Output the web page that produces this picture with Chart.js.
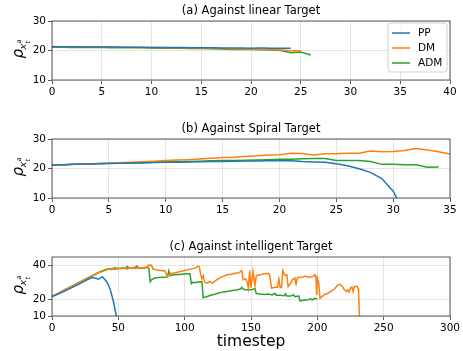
<!DOCTYPE html>
<html lang="en">
<head>
<meta charset="UTF-8">
<title>Target pursuit comparison</title>
<script src="https://cdn.jsdelivr.net/npm/chart.js"></script>
<style>
  body { margin: 0; background: #fff; }
  #wrap { position: relative; width: 463px; height: 351px; }
  canvas { position: absolute; left: 0; }
</style>
</head>
<body>
<div id="wrap">
  <canvas id="chartA" width="463" height="100" style="top:0px"></canvas>
  <canvas id="chartB" width="463" height="100" style="top:118px"></canvas>
  <canvas id="chartC" width="463" height="115" style="top:236px"></canvas>
</div>
<script>
const names = ['PP', 'DM', 'ADM'];
const colors = ['#1f77b4', '#ff7f0e', '#2ca02c'];
const titles = ['(a) Against linear Target', '(b) Against Spiral Target', '(c) Against intelligent Target'];
const xTitle = 'timestep';

// (a) linear target, one value per step
const aPP  = [21.3, 21.28, 21.25, 21.22, 21.2, 21.18, 21.15, 21.12, 21.1, 21.08, 21.05, 21.03, 21.0, 20.98, 20.95, 20.93, 20.9, 20.88, 20.85, 20.83, 20.8, 20.82, 20.78, 20.75, 20.75];
const aDM  = [21.35, 21.3, 21.3, 21.25, 21.2, 21.2, 21.15, 21.1, 21.1, 21.05, 21.0, 21.0, 20.95, 20.9, 20.85, 20.8, 20.75, 20.7, 20.55, 20.5, 20.45, 20.4, 20.3, 20.2, 19.9, 19.9];
const aADM = [21.1, 21.1, 21.05, 21.05, 21.0, 21.0, 20.95, 20.95, 20.9, 20.9, 20.85, 20.8, 20.8, 20.75, 20.7, 20.65, 20.6, 20.5, 20.35, 20.3, 20.3, 20.25, 20.2, 20.0, 19.25, 19.45, 18.5];

// (b) spiral target
const bPP  = [21.2, 21.3, 21.4, 21.5, 21.6, 21.7, 21.75, 21.85, 21.9, 22.0, 22.1, 22.15, 22.2, 22.3, 22.35, 22.4, 22.45, 22.5, 22.55, 22.6, 22.65, 22.6, 22.35, 22.2, 22.1, 21.6, 20.9, 19.9, 18.7, 16.6, 12.3, 5];
const bDM  = [21.2, 21.3, 21.45, 21.55, 21.7, 21.8, 21.95, 22.1, 22.25, 22.45, 22.7, 22.85, 23.0, 23.2, 23.45, 23.7, 23.8, 24.1, 24.3, 24.6, 24.7, 25.15, 25.1, 24.6, 25.0, 25.0, 25.2, 25.2, 25.9, 25.7, 25.8, 26.1, 26.8, 26.3, 25.7, 24.9];
const bADM = [21.2, 21.3, 21.4, 21.5, 21.6, 21.75, 21.8, 21.9, 22.0, 22.1, 22.2, 22.3, 22.4, 22.5, 22.6, 22.7, 22.75, 22.8, 22.9, 23.0, 23.1, 23.1, 23.3, 23.4, 23.4, 22.75, 22.7, 22.7, 22.35, 21.4, 21.4, 21.3, 21.25, 20.4, 20.5];

const cPPt = [0, 5, 10, 15, 20, 25, 30, 33, 35, 37, 38, 40, 42, 43, 44, 45, 46, 47, 48, 49];
const cPPv = [21.5, 23.2, 24.9, 26.8, 28.8, 30.8, 32.8, 32.4, 31.8, 32.9, 33.2, 31.5, 29.3, 27.5, 25.5, 22.5, 19.5, 16, 12, 7];

const cDMt = [0, 5, 10, 15, 20, 25, 30, 35, 40, 43, 45, 48, 50, 52, 55, 57, 58, 60, 62, 63, 65, 68, 70, 72, 73, 74, 75, 76, 78, 80, 83, 85, 86, 87, 88, 89, 92, 96, 100, 104, 108, 110, 111, 112, 113, 114, 115, 117, 119, 121, 123, 126, 129, 132, 135, 138, 141, 143, 144, 146, 147, 148, 149, 150, 151.5, 153, 154, 157, 160, 163, 164, 165.5, 168, 170, 171, 172, 173, 174, 175, 176, 177, 178, 180, 181, 183, 184, 185, 188, 191, 194, 197, 198, 199, 199.5, 200, 201, 202, 205, 208, 211, 213, 215, 217, 219, 220, 222, 223, 224, 225, 226, 227, 228, 230, 231, 232];
const cDMv = [21.5, 23.6, 25.6, 27.6, 29.6, 31.6, 33.4, 35.6, 37, 37.8, 38.2, 37.6, 38.5, 38, 38.4, 37.8, 38.6, 38.2, 38.9, 38.1, 38.5, 38.3, 38.8, 39.2, 40.4, 39.8, 40.2, 38, 37.5, 37.2, 36.8, 37, 35, 33.5, 34, 35.2, 35.5, 36.3, 37, 37.8, 38.4, 39.6, 39.2, 35, 32, 34, 30, 29.5, 30.5, 29.5, 30.8, 32.5, 33.5, 34.5, 34.8, 35.3, 35.6, 37, 31.5, 32, 30.5, 26.5, 37, 26.8, 36.5, 28, 34, 34.5, 35, 35.2, 34.5, 26.5, 27, 27, 32, 26.8, 27, 37, 35, 34, 34.5, 27.5, 29.5, 31.5, 32.5, 29, 32.8, 33, 33.5, 33, 33.5, 34.5, 33, 22.5, 32.5, 30, 20.5, 22.5, 23.5, 25, 26, 28.2, 28.8, 27.5, 26, 24.5, 25.5, 24.2, 26.5, 27.3, 24.5, 27.5, 27.5, 26, 5];

const cADMt = [0, 5, 10, 15, 20, 25, 30, 35, 40, 43, 45, 47, 50, 53, 55, 57, 58, 60, 62, 64, 65, 68, 70, 72, 73, 74, 75, 77, 80, 84, 87, 88, 89, 92, 95, 98, 101, 104, 105, 106, 108, 110, 113, 114, 116, 119, 122, 125, 129, 132, 135, 139, 142, 143, 144, 146, 150, 153, 154, 157, 160, 163, 166, 168, 169, 172, 175, 176, 177, 180, 182, 183, 186, 187, 190, 193, 195, 196, 198, 199, 200];
const cADMv = [21.5, 23.6, 25.7, 27.7, 29.7, 31.8, 33.8, 35.8, 37.5, 38, 37.6, 38.6, 38, 38.4, 38.2, 39.4, 38.4, 38.3, 38.4, 39.6, 38.6, 38.5, 38.5, 38.9, 38.2, 30.4, 31.5, 32.4, 32.8, 33, 33.2, 36.8, 34, 34.4, 34.6, 34.8, 35, 35, 29.2, 30, 29.8, 30.2, 30.3, 20.8, 21.3, 22.2, 22.8, 23.5, 24.3, 24.5, 25, 25.4, 26, 27, 26, 25.5, 25.5, 26.2, 23.3, 23, 22.8, 23, 22.5, 23.5, 22.3, 22.3, 22, 23.2, 21.8, 21.8, 22.6, 21.5, 21.8, 19, 19.3, 19.6, 20.2, 19.5, 20.5, 20.2, 20];

function steps(vals) { return vals.map((v, i) => ({ x: i, y: v })); }
function pairs(ts, vals) { return ts.map((t, i) => ({ x: t, y: vals[i] })); }

function sets(list) {
    return list.map((d, i) => ({
        label: names[i],
        data: d,
        borderColor: colors[i],
        backgroundColor: colors[i],
        borderWidth: 1.5,
        pointRadius: 0,
        fill: false,
        tension: 0
    }));
}

const font = '"DejaVu Sans", sans-serif';

// spines, subplot title, rotated y label and the legend box
const decor = {
    id: 'decor',
    afterDatasetsDraw(chart, args, opts) {
        const ctx = chart.ctx;
        const a = chart.chartArea;
        ctx.save();
        ctx.strokeStyle = '#333';
        ctx.lineWidth = 0.8;
        ctx.strokeRect(a.left, a.top, a.right - a.left, a.bottom - a.top);

        ctx.fillStyle = '#000';
        ctx.font = '11.5px ' + font;
        ctx.textAlign = 'center';
        ctx.textBaseline = 'middle';
        ctx.fillText(opts.title, (a.left + a.right) / 2, a.top - 10);

        // y label: rho with x_t^a subscript
        ctx.save();
        ctx.translate(23, (a.top + a.bottom) / 2 + 8);
        ctx.rotate(-Math.PI / 2);
        ctx.textAlign = 'left';
        ctx.textBaseline = 'alphabetic';
        ctx.font = 'italic 15px ' + font;
        ctx.fillText('ρ', 0, 0);
        ctx.font = 'italic 9.5px ' + font;
        ctx.fillText('x', 9, 3);
        ctx.font = 'italic 6.5px ' + font;
        ctx.fillText('a', 15, -2);
        ctx.fillText('t', 15, 7);
        ctx.restore();

        if (opts.legend) {
            const x0 = a.right - 62, y0 = a.top + 2, w = 59, h = 49;
            ctx.beginPath();
            ctx.roundRect(x0, y0, w, h, 3);
            ctx.fillStyle = 'rgba(255,255,255,0.8)';
            ctx.fill();
            ctx.strokeStyle = '#d0d0d0';
            ctx.lineWidth = 1;
            ctx.stroke();
            chart.data.datasets.forEach((ds, i) => {
                const y = y0 + 10 + i * 15;
                ctx.beginPath();
                ctx.moveTo(x0 + 4, y);
                ctx.lineTo(x0 + 22, y);
                ctx.strokeStyle = ds.borderColor;
                ctx.lineWidth = 1.5;
                ctx.stroke();
                ctx.fillStyle = '#000';
                ctx.font = '10.5px ' + font;
                ctx.textAlign = 'left';
                ctx.textBaseline = 'middle';
                ctx.fillText(ds.label, x0 + 30, y);
            });
        }
        ctx.restore();
    }
};

function makeChart(id, datasets, xMax, xStep, yMin, yMax, yTicks, title, legend, xLabel, xHeight) {
    return new Chart(document.getElementById(id), {
        type: 'line',
        data: { datasets: datasets },
        options: {
            responsive: false,
            animation: false,
            devicePixelRatio: 1,
            layout: { padding: { top: 21, right: 13, left: 0, bottom: 0 } },
            plugins: {
                legend: { display: false },
                tooltip: { enabled: false },
                decor: { title: title, legend: legend }
            },
            scales: {
                x: {
                    type: 'linear',
                    min: 0,
                    max: xMax,
                    ticks: { stepSize: xStep, color: '#000', font: { size: 10.5, family: font }, padding: 2, maxRotation: 0 },
                    grid: { color: '#dedede', lineWidth: 0.8, tickLength: 4, tickColor: '#333', tickWidth: 0.8 },
                    border: { display: false },
                    title: { display: !!xLabel, text: xLabel || '', color: '#000', font: { size: 15.5, family: font }, padding: 0 },
                    afterFit: s => { s.height = xHeight; }
                },
                y: {
                    min: yMin,
                    max: yMax,
                    afterBuildTicks: s => { s.ticks = yTicks.map(v => ({ value: v })); },
                    ticks: { color: '#000', font: { size: 10.5, family: font }, padding: 2 },
                    grid: { color: '#dedede', lineWidth: 0.8, tickLength: 4, tickColor: '#333', tickWidth: 0.8 },
                    border: { display: false },
                    afterFit: s => { s.width = 52; }
                }
            }
        },
        plugins: [decor]
    });
}

makeChart('chartA', sets([steps(aPP), steps(aDM), steps(aADM)]), 40, 5, 10, 30, [10, 20, 30], titles[0], true, null, 20);
makeChart('chartB', sets([steps(bPP), steps(bDM), steps(bADM)]), 35, 5, 10, 30, [10, 20, 30], titles[1], false, null, 20);
makeChart('chartC', sets([pairs(cPPt, cPPv), pairs(cDMt, cDMv), pairs(cADMt, cADMv)]), 300, 50, 10, 45, [10, 20, 40], titles[2], false, xTitle, 35);
</script>
</body>
</html>
